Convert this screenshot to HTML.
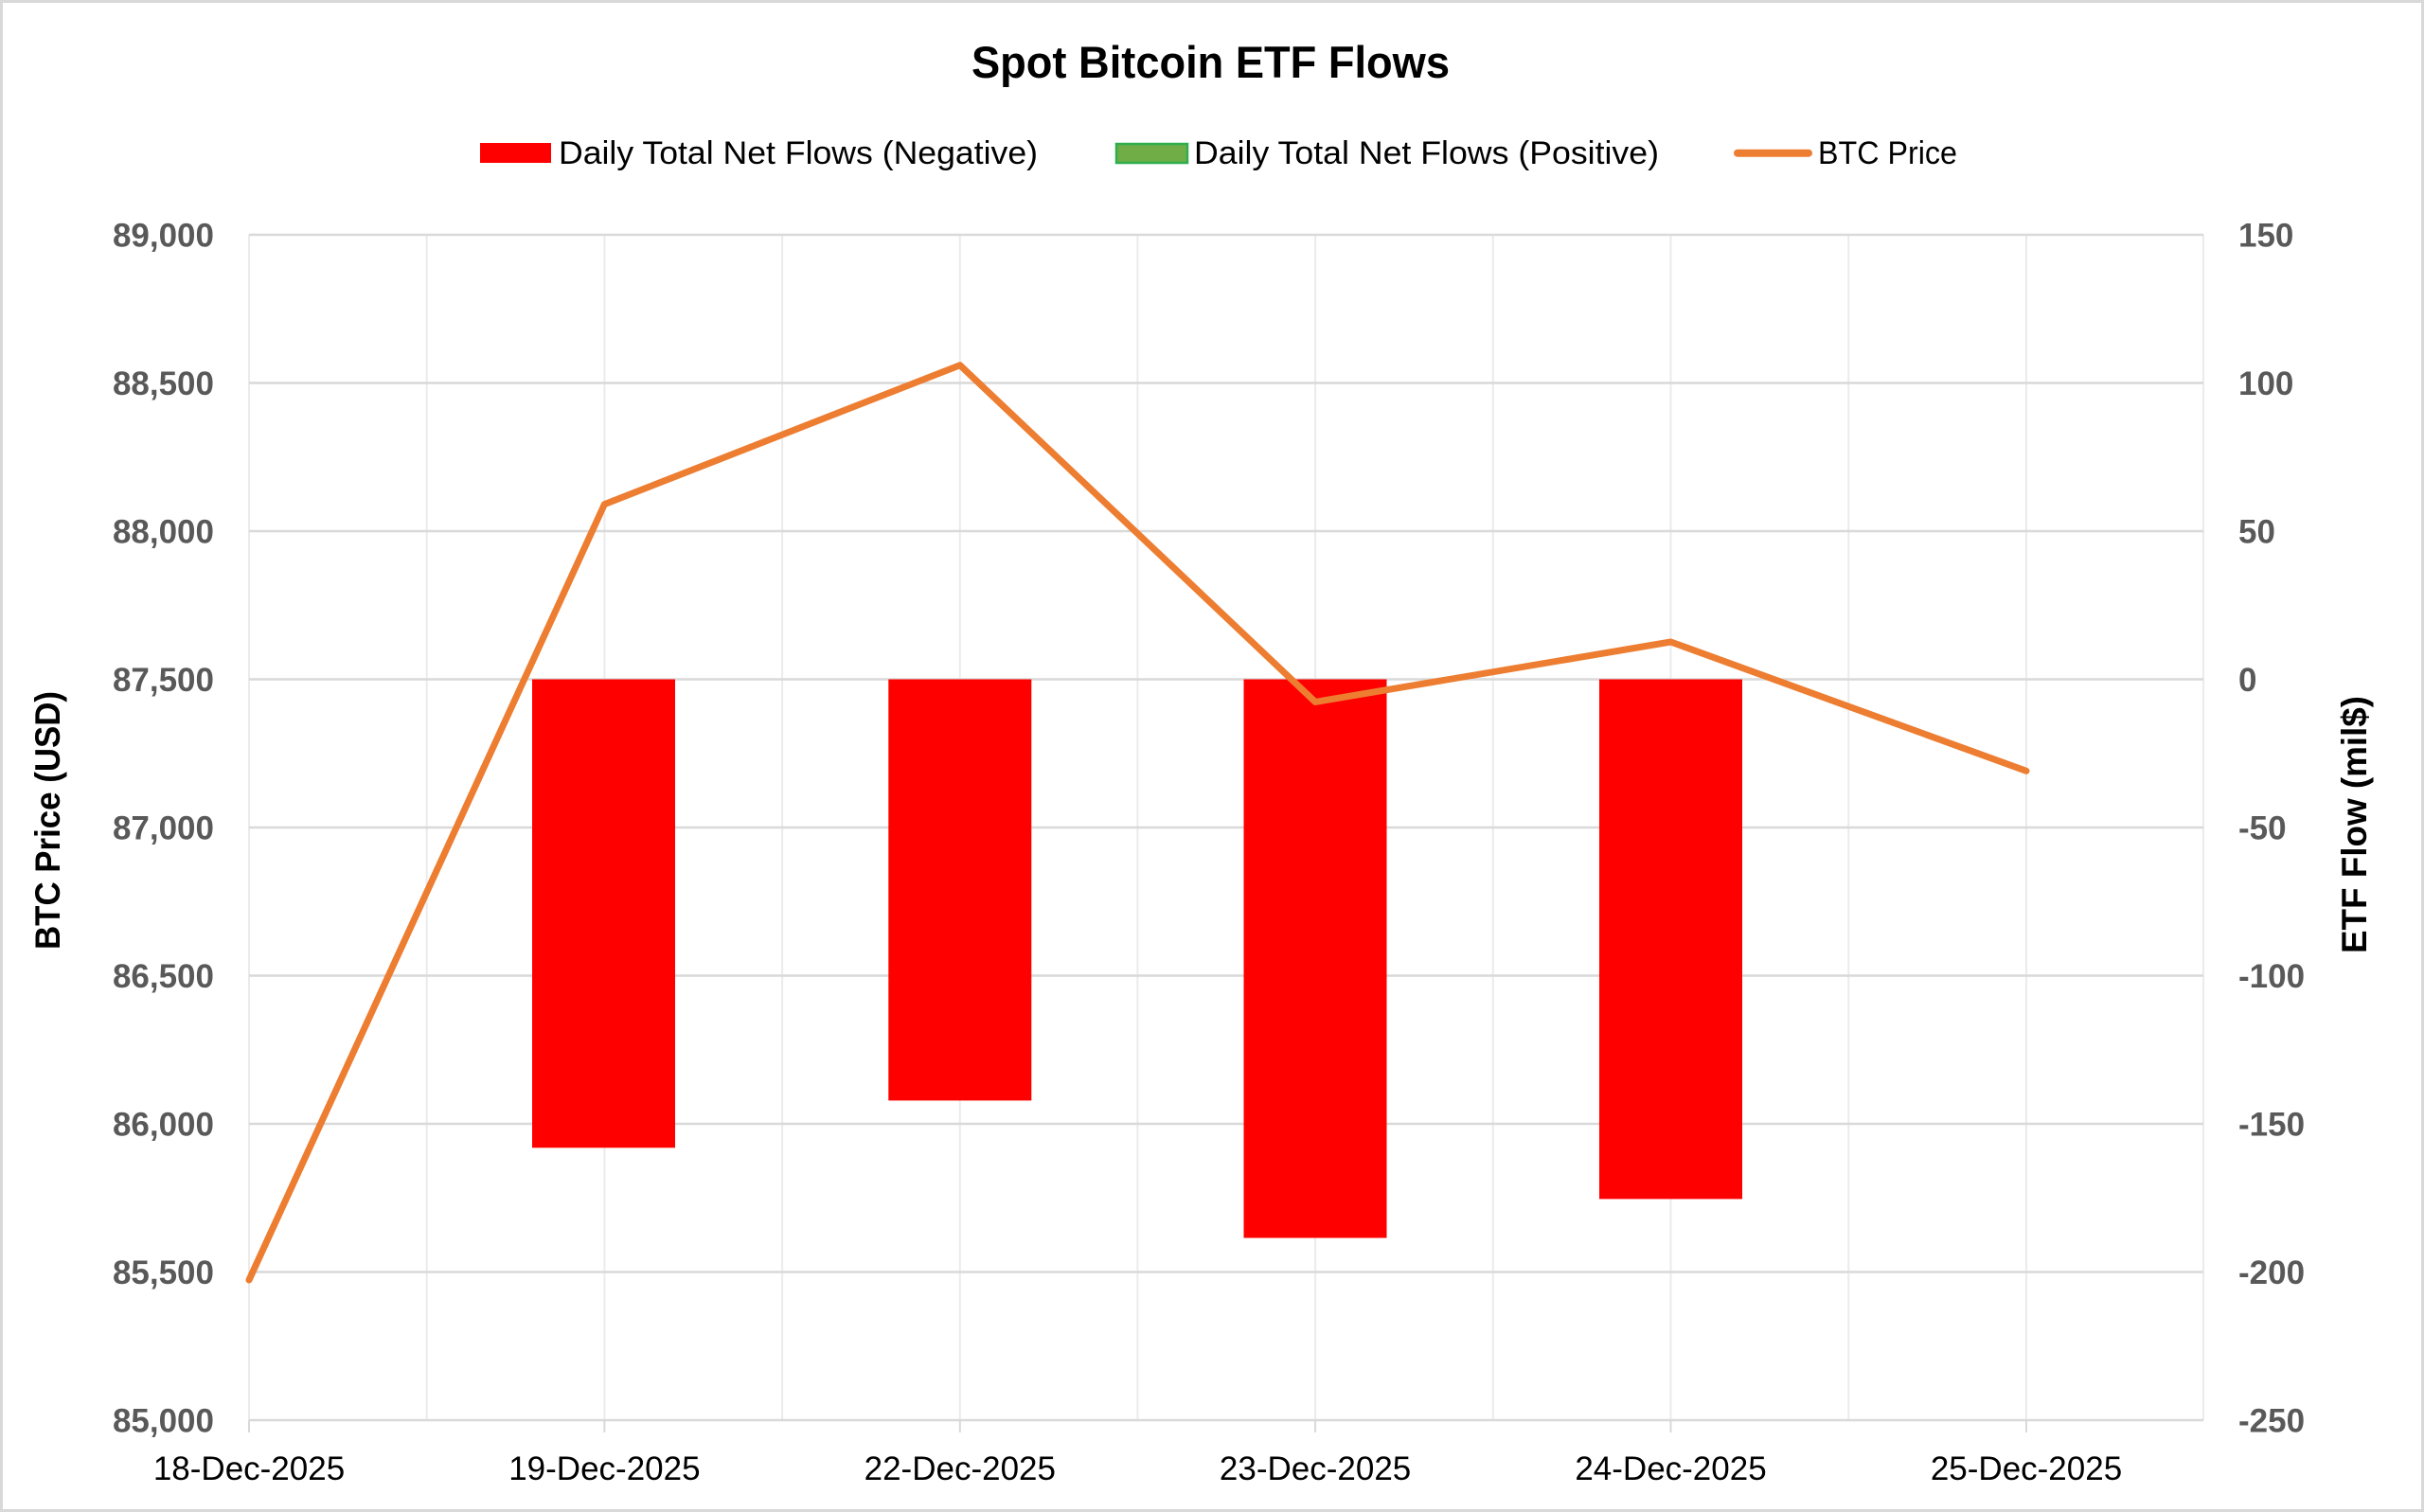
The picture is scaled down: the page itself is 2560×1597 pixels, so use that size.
<!DOCTYPE html>
<html>
<head>
<meta charset="utf-8">
<style>
  html, body { margin: 0; padding: 0; background: #ffffff; }
  svg { display: block; }
  text { font-family: "Liberation Sans", Arial, sans-serif; }
</style>
</head>
<body>
<svg width="2560" height="1597" viewBox="0 0 2560 1597" xmlns="http://www.w3.org/2000/svg">
  <rect x="0" y="0" width="2560" height="1597" fill="#ffffff"/>
  <rect x="1.5" y="1.5" width="2557" height="1594" fill="none" stroke="#d9d9d9" stroke-width="3"/>

  <!-- vertical gridlines -->
  <g stroke="#ebebeb" stroke-width="2">
    <line x1="263" y1="248" x2="263" y2="1500"/>
    <line x1="450.7" y1="248" x2="450.7" y2="1500"/>
    <line x1="638.4" y1="248" x2="638.4" y2="1500"/>
    <line x1="826.1" y1="248" x2="826.1" y2="1500"/>
    <line x1="1013.8" y1="248" x2="1013.8" y2="1500"/>
    <line x1="1201.4" y1="248" x2="1201.4" y2="1500"/>
    <line x1="1389.1" y1="248" x2="1389.1" y2="1500"/>
    <line x1="1576.8" y1="248" x2="1576.8" y2="1500"/>
    <line x1="1764.5" y1="248" x2="1764.5" y2="1500"/>
    <line x1="1952.2" y1="248" x2="1952.2" y2="1500"/>
    <line x1="2140" y1="248" x2="2140" y2="1500"/>
    <line x1="2327" y1="248" x2="2327" y2="1500"/>
  </g>
  <!-- horizontal gridlines -->
  <g stroke="#d9d9d9" stroke-width="2.5">
    <line x1="263" y1="248" x2="2327" y2="248"/>
    <line x1="263" y1="404.5" x2="2327" y2="404.5"/>
    <line x1="263" y1="561" x2="2327" y2="561"/>
    <line x1="263" y1="717.5" x2="2327" y2="717.5"/>
    <line x1="263" y1="874" x2="2327" y2="874"/>
    <line x1="263" y1="1030.5" x2="2327" y2="1030.5"/>
    <line x1="263" y1="1187" x2="2327" y2="1187"/>
    <line x1="263" y1="1343.5" x2="2327" y2="1343.5"/>
    <line x1="263" y1="1500" x2="2327" y2="1500"/>
  </g>
  <!-- ticks -->
  <g stroke="#d9d9d9" stroke-width="2">
    <line x1="263" y1="1500" x2="263" y2="1513"/>
    <line x1="638.4" y1="1500" x2="638.4" y2="1513"/>
    <line x1="1013.8" y1="1500" x2="1013.8" y2="1513"/>
    <line x1="1389.1" y1="1500" x2="1389.1" y2="1513"/>
    <line x1="1764.5" y1="1500" x2="1764.5" y2="1513"/>
    <line x1="2140" y1="1500" x2="2140" y2="1513"/>
  </g>

  <!-- bars -->
  <g fill="#ff0000">
    <rect x="562" y="717.5" width="151" height="494.8"/>
    <rect x="938.3" y="717.5" width="151" height="444.9"/>
    <rect x="1313.5" y="717.5" width="151" height="590"/>
    <rect x="1689" y="717.5" width="151" height="548.9"/>
  </g>

  <!-- BTC price line -->
  <polyline points="263,1352 638.4,532.6 1013.8,385.7 1389.1,741.4 1764.5,678 2140,814.3"
            fill="none" stroke="#ed7d31" stroke-width="7" stroke-linejoin="round" stroke-linecap="round"/>

  <!-- left axis labels -->
  <g font-size="35" font-weight="bold" fill="#595959" text-anchor="end">
    <text x="226" y="260.5">89,000</text>
    <text x="226" y="417">88,500</text>
    <text x="226" y="573.5">88,000</text>
    <text x="226" y="730">87,500</text>
    <text x="226" y="886.5">87,000</text>
    <text x="226" y="1043">86,500</text>
    <text x="226" y="1199.5">86,000</text>
    <text x="226" y="1356">85,500</text>
    <text x="226" y="1512.5">85,000</text>
  </g>
  <!-- right axis labels -->
  <g font-size="35" font-weight="bold" fill="#595959" text-anchor="start">
    <text x="2364" y="260.5">150</text>
    <text x="2364" y="417">100</text>
    <text x="2364" y="573.5">50</text>
    <text x="2364" y="730">0</text>
    <text x="2364" y="886.5">-50</text>
    <text x="2364" y="1043">-100</text>
    <text x="2364" y="1199.5">-150</text>
    <text x="2364" y="1356">-200</text>
    <text x="2364" y="1512.5">-250</text>
  </g>
  <!-- x axis labels -->
  <g font-size="35" fill="#000000" text-anchor="middle">
    <text x="263" y="1563">18-Dec-2025</text>
    <text x="638.4" y="1563">19-Dec-2025</text>
    <text x="1013.8" y="1563">22-Dec-2025</text>
    <text x="1389.1" y="1563">23-Dec-2025</text>
    <text x="1764.5" y="1563">24-Dec-2025</text>
    <text x="2140" y="1563">25-Dec-2025</text>
  </g>

  <!-- axis titles -->
  <text transform="translate(63,866.5) rotate(-90)" text-anchor="middle" font-size="37" font-weight="bold" fill="#000" textLength="273" lengthAdjust="spacingAndGlyphs">BTC Price (USD)</text>
  <text transform="translate(2499,871) rotate(-90)" text-anchor="middle" font-size="37" font-weight="bold" fill="#000" textLength="272" lengthAdjust="spacingAndGlyphs">ETF Flow (mil$)</text>

  <!-- title -->
  <text x="1026" y="82" font-size="47" font-weight="bold" fill="#000" textLength="505" lengthAdjust="spacingAndGlyphs">Spot Bitcoin ETF Flows</text>

  <!-- legend -->
  <rect x="507" y="151" width="75" height="21" fill="#ff0000"/>
  <text x="590" y="173" font-size="34" fill="#000" textLength="506" lengthAdjust="spacingAndGlyphs">Daily Total Net Flows (Negative)</text>
  <rect x="1179" y="152" width="75" height="20" fill="#70ad47" stroke="#2fae4e" stroke-width="2.5"/>
  <text x="1261" y="173" font-size="34" fill="#000" textLength="491" lengthAdjust="spacingAndGlyphs">Daily Total Net Flows (Positive)</text>
  <line x1="1835" y1="161.7" x2="1910" y2="161.7" stroke="#ed7d31" stroke-width="8" stroke-linecap="round"/>
  <text x="1920" y="173" font-size="34" fill="#000" textLength="147" lengthAdjust="spacingAndGlyphs">BTC Price</text>
</svg>
</body>
</html>
